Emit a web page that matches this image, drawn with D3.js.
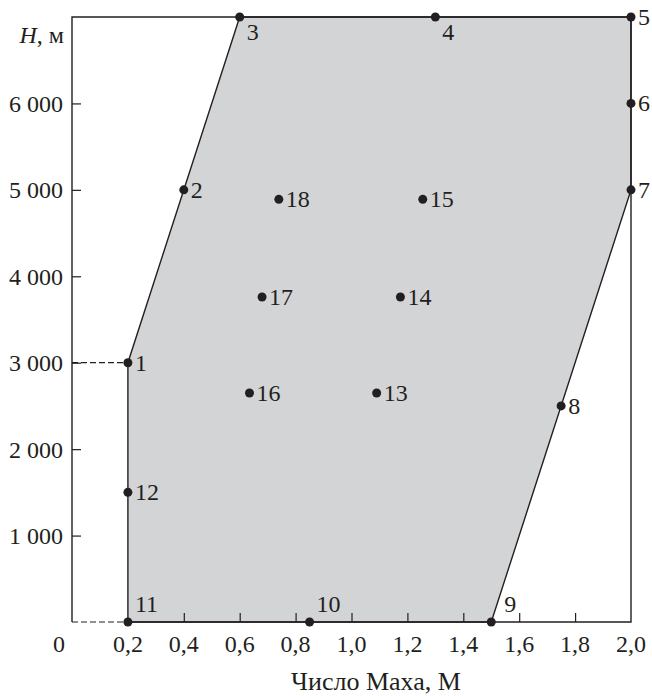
<!DOCTYPE html>
<meta charset="utf-8">
<style>
body { margin: 0; background: #fff; }
svg text { font-family: "Liberation Serif", "Times New Roman", serif; fill: #231f20; }
</style>
<svg width="652" height="696"></svg>
<script src="https://cdn.jsdelivr.net/npm/d3@7"></script>
<script>

// numbered points: [id, Mach, H]
var points = [
  [1, 0.2, 3000], [2, 0.4, 5000], [3, 0.6, 7000], [4, 1.3, 7000],
  [5, 2.0, 7000], [6, 2.0, 6000], [7, 2.0, 5000], [8, 1.75, 2500],
  [9, 1.5, 0], [10, 0.85, 0], [11, 0.2, 0], [12, 0.2, 1500],
  [13, 1.09, 2650], [14, 1.175, 3760], [15, 1.255, 4890],
  [16, 0.635, 2650], [17, 0.68, 3760], [18, 0.74, 4890]
];
// envelope outline (point ids)
var envelope = [11, 1, 3, 5, 7, 9];
var xTicks = [0, 0.2, 0.4, 0.6, 0.8, 1.0, 1.2, 1.4, 1.6, 1.8, 2.0];
var yTicks = [1000, 2000, 3000, 4000, 5000, 6000];
// labels placed differently from the default (right of the dot)
var labelBelow = [3, 4];
var labelAbove = [9, 10, 11];

var svg = d3.select("svg");
var x = d3.scaleLinear().domain([0, 2]).range([72, 631]);
var y = d3.scaleLinear().domain([0, 7000]).range([622, 17]);

var byId = {};
points.forEach(function(p) { byId[p[0]] = p; });
var fmt = function(v) { return d3.format(",")(v).replace(",", " "); };

// shaded envelope
svg.append("path")
    .datum(envelope.map(function(id) { return byId[id]; }))
    .attr("d", d3.line().x(function(d) { return x(d[1]); }).y(function(d) { return y(d[2]); }).curve(d3.curveLinearClosed))
    .attr("fill", "#d3d4d6")
    .attr("stroke", "#231f20")
    .attr("stroke-width", 1.4);

// dashed guide lines
svg.append("path")
    .attr("d", "M" + x(0) + "," + y(3000) + "H" + x(0.2) + "M" + x(0) + "," + y(0) + "H" + x(0.2))
    .attr("fill", "none")
    .attr("stroke", "#231f20")
    .attr("stroke-width", 1.2)
    .attr("stroke-dasharray", "6,3");

// frame
svg.append("path")
    .attr("d", "M" + x(0) + "," + y(0) + "V" + y(7000) + "H" + x(2) + "V" + y(0) + "H" + x(0.2))
    .attr("fill", "none")
    .attr("stroke", "#231f20")
    .attr("stroke-width", 1.4);

// axes (inward ticks)
var yAxis = svg.append("g")
    .attr("transform", "translate(" + x(0) + ",0)")
    .call(d3.axisRight(y).tickValues(yTicks).tickSize(9).tickFormat(""));
yAxis.select(".domain").remove();
yAxis.selectAll("line").attr("stroke", "#231f20").attr("stroke-width", 1.2);

var xAxis = svg.append("g")
    .attr("transform", "translate(0," + y(0) + ")")
    .call(d3.axisTop(x).tickValues([0.4, 0.6, 0.8, 1.0, 1.2, 1.4, 1.6, 1.8]).tickSize(9).tickFormat(""));
xAxis.select(".domain").remove();
xAxis.selectAll("line").attr("stroke", "#231f20").attr("stroke-width", 1.2);

// tick labels
svg.selectAll(".ylab").data(yTicks).enter().append("text")
    .attr("x", 63).attr("y", function(d) { return y(d); })
    .attr("dy", "0.35em")
    .attr("text-anchor", "end")
    .style("font-size", "24px")
    .text(fmt);

svg.selectAll(".xlab").data(xTicks).enter().append("text")
    .attr("x", function(d) { return d === 0 ? x(d) - 13 : x(d); })
    .attr("y", 652)
    .attr("text-anchor", "middle")
    .style("font-size", "24px")
    .text(function(d) { return d === 0 ? "0" : d3.format(".1f")(d).replace(".", ","); });

var hl = svg.append("text").attr("x", 64).attr("y", 43)
    .attr("text-anchor", "end").style("font-size", "24px");
hl.append("tspan").style("font-style", "italic").text("H");
hl.append("tspan").text(", м");

svg.append("text")
    .attr("x", 376).attr("y", 690)
    .attr("text-anchor", "middle")
    .style("font-size", "26px")
    .text("Число Маха, M");

// points and labels
svg.selectAll(".pt").data(points).enter().append("circle")
    .attr("cx", function(d) { return x(d[1]); })
    .attr("cy", function(d) { return y(d[2]); })
    .attr("r", 4.5)
    .attr("fill", "#231f20");

svg.selectAll(".num").data(points).enter().append("text")
    .attr("x", function(d) { return x(d[1]) + (d[0] === 9 ? 13 : 7); })
    .attr("y", function(d) {
      if (labelBelow.indexOf(d[0]) >= 0) return y(d[2]) + 23;
      if (labelAbove.indexOf(d[0]) >= 0) return y(d[2]) - 10;
      return y(d[2]) + 8;
    })
    .style("font-size", "24px")
    .text(function(d) { return d[0]; });

</script>
